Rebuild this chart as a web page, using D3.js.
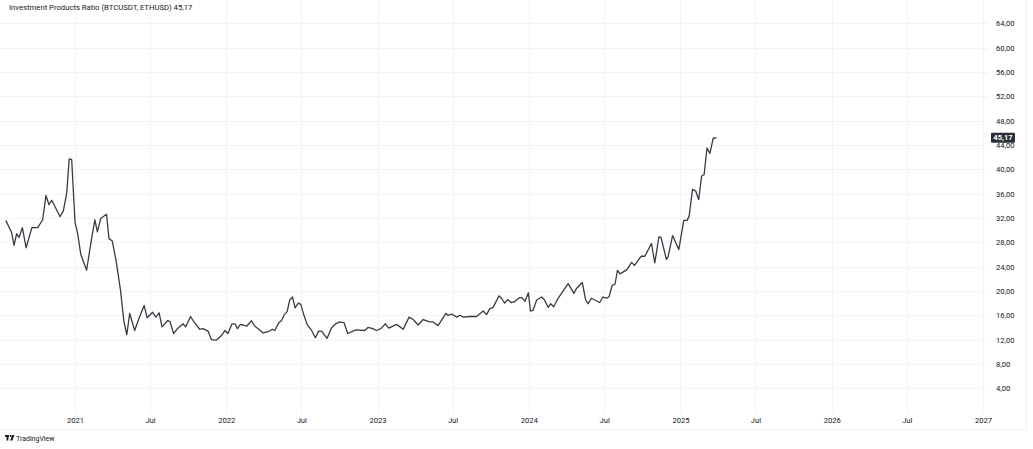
<!DOCTYPE html>
<html>
<head>
<meta charset="utf-8">
<script src="https://cdn.jsdelivr.net/npm/d3@7"></script>
<style>
  body { margin: 0; background: #ffffff; }
  svg { display: block; }
  .tick-lbl { font-family: Roboto, "Noto Sans", sans-serif; font-size: 7.6px; fill: #131722; }
  .title { font-family: Roboto, "Noto Sans", sans-serif; font-size: 7.7px; fill: #131722; }
</style>
</head>
<body>
<div id="chart"></div>
<script>
// ratio values (weekly-ish closes)
var dates = [
  "2020-07-18","2020-08-01","2020-08-07","2020-08-13","2020-08-19","2020-08-27","2020-09-05","2020-09-19",
  "2020-10-03","2020-10-15","2020-10-23","2020-10-30","2020-11-06","2020-11-26","2020-12-04","2020-12-12",
  "2020-12-18","2020-12-24","2021-01-01","2021-01-07","2021-01-15","2021-01-29","2021-02-10","2021-02-18",
  "2021-02-24","2021-03-04","2021-03-18","2021-03-24","2021-04-01","2021-04-11","2021-04-21","2021-04-29",
  "2021-05-06","2021-05-13","2021-05-25","2021-06-06","2021-06-17","2021-06-24","2021-07-07","2021-07-15",
  "2021-07-23","2021-07-30","2021-08-12","2021-08-18","2021-08-27","2021-09-05","2021-09-19","2021-09-25",
  "2021-10-07","2021-10-15","2021-10-29","2021-11-06","2021-11-18","2021-11-26","2021-12-08","2021-12-21",
  "2021-12-29","2022-01-05","2022-01-15","2022-01-22","2022-01-28","2022-02-04","2022-02-11","2022-02-19",
  "2022-03-03","2022-03-11","2022-03-19","2022-03-31","2022-04-12","2022-04-22","2022-04-28","2022-05-08",
  "2022-05-14","2022-05-21","2022-05-28","2022-06-03","2022-06-10","2022-06-16","2022-06-24","2022-06-30",
  "2022-07-07","2022-07-15","2022-07-26","2022-08-04","2022-08-12","2022-08-19","2022-09-01","2022-09-12",
  "2022-09-22","2022-10-02","2022-10-12","2022-10-21","2022-11-10","2022-12-01","2022-12-09","2022-12-21",
  "2022-12-29","2023-01-09","2023-01-20","2023-01-28","2023-02-16","2023-03-04","2023-03-18","2023-03-28",
  "2023-04-09","2023-04-21","2023-05-07","2023-05-15","2023-05-27","2023-06-15","2023-06-20","2023-06-29",
  "2023-07-11","2023-07-19","2023-07-27","2023-08-12","2023-08-28","2023-09-13","2023-09-21","2023-09-29",
  "2023-10-07","2023-10-21","2023-10-27","2023-11-04","2023-11-11","2023-11-19","2023-11-27","2023-12-09",
  "2023-12-15","2023-12-23","2023-12-31","2024-01-05","2024-01-11","2024-01-20","2024-02-01","2024-02-07",
  "2024-02-17","2024-02-23","2024-03-01","2024-03-10","2024-04-05","2024-04-19","2024-04-25","2024-05-09",
  "2024-05-17","2024-05-23","2024-05-31","2024-06-20","2024-06-28","2024-07-07","2024-07-13","2024-07-20",
  "2024-07-27","2024-08-02","2024-08-08","2024-08-25","2024-09-05","2024-09-12","2024-09-28","2024-10-07",
  "2024-10-23","2024-10-31","2024-11-10","2024-11-15","2024-11-28","2024-12-02","2024-12-13","2024-12-28",
  "2025-01-09","2025-01-17","2025-01-22","2025-01-30","2025-02-07","2025-02-14","2025-02-21","2025-02-27",
  "2025-03-06","2025-03-13","2025-03-21","2025-03-29"
];
var ratio = [
  31.6,29.6,27.5,29.4,28.8,30.4,27.1,30.4,
  30.4,31.7,35.7,34.2,34.9,32.2,33.2,36.1,
  41.7,41.6,31.3,29.6,26.0,23.4,28.6,31.7,
  29.7,31.9,32.6,28.6,28.2,24.6,20.0,15.0,
  12.8,16.3,13.5,15.8,17.6,15.6,16.5,15.7,
  16.4,14.1,15.1,15.0,13.0,13.8,14.6,14.1,
  15.8,14.9,13.7,13.8,13.4,12.0,11.9,12.7,
  13.5,13.0,14.6,14.6,13.8,14.5,14.4,14.2,
  15.1,14.2,13.8,13.1,13.3,13.7,13.5,14.8,
  15.1,16.1,16.6,18.5,19.0,17.2,18.0,17.8,
  16.1,14.5,13.5,12.3,13.4,13.4,12.2,13.9,
  14.6,14.9,14.8,13.0,13.6,13.5,14.0,13.8,
  13.5,13.8,14.6,13.9,14.5,13.7,15.7,15.3,
  14.4,15.3,14.9,14.9,14.3,16.3,16.0,16.2,
  15.7,16.0,15.7,15.8,15.8,16.7,16.1,17.1,
  17.3,19.2,18.8,18.0,18.6,18.1,18.2,18.9,
  18.9,18.3,19.7,16.7,16.8,18.5,19.0,18.6,
  17.3,17.9,17.4,18.6,21.2,19.6,20.4,21.4,
  18.6,17.9,18.8,18.1,19.0,18.8,19.1,20.9,
  21.1,23.4,22.8,23.5,24.7,24.2,25.7,25.7,
  27.8,24.6,28.9,28.8,25.2,25.6,29.1,26.8,
  31.6,31.6,32.3,36.7,36.4,35.0,38.9,39.1,
  43.5,42.6,45.1,45.17
];
var lastValue = 45.17;

var yTicks = [4, 8, 12, 16, 20, 24, 28, 32, 36, 40, 44, 48, 52, 56, 60, 64];
var xTicks = ["2021-01-01","2021-07-01","2022-01-01","2022-07-01","2023-01-01","2023-07-01",
              "2024-01-01","2024-07-01","2025-01-01","2025-07-01","2026-01-01","2026-07-01","2027-01-01"];
var titleText = "Investment Products Ratio (BTCUSDT, ETHUSD)";

var width = 1033, height = 449;
var paneRight = 988, paneBottom = 413, axisRight = 1026, axisBottom = 429;

var parse = d3.timeParse("%Y-%m-%d");
var data = dates.map(function (d, i) { return { date: parse(d), value: ratio[i] }; });

var svg = d3.select("#chart").append("svg")
  .attr("width", width)
  .attr("height", height);

// scales
var xScale = d3.scaleTime()
  .domain([parse("2021-01-01"), parse("2027-01-01")])
  .range([75, 983]);
var yScale = d3.scaleLinear()
  .domain([0, 67.83])
  .range([412.6, 0]);

// grid
var grid = svg.append("g").attr("stroke", "#f2f3f6").attr("stroke-width", 1);
grid.selectAll("line.h").data(yTicks).enter().append("line")
  .attr("x1", 0).attr("x2", paneRight)
  .attr("y1", function (d) { return Math.round(yScale(d)) + 0.5; })
  .attr("y2", function (d) { return Math.round(yScale(d)) + 0.5; });
grid.selectAll("line.v").data(xTicks).enter().append("line")
  .attr("y1", 0).attr("y2", paneBottom)
  .attr("x1", function (d) { return Math.round(xScale(parse(d))) + 0.5; })
  .attr("x2", function (d) { return Math.round(xScale(parse(d))) + 0.5; });

// outer frame
svg.append("path")
  .attr("d", "M0.5," + (axisBottom + 0.5) + "H" + (axisRight + 0.5) + "V0")
  .attr("fill", "none")
  .attr("stroke", "#eceef2");

// line
var line = d3.line()
  .x(function (d) { return xScale(d.date); })
  .y(function (d) { return yScale(d.value); });
svg.append("path")
  .datum(data)
  .attr("fill", "none")
  .attr("stroke", "#383b44")
  .attr("stroke-width", 1.3)
  .attr("stroke-linejoin", "round")
  .attr("d", line);

// price axis
var fmt = function (v) { return v.toFixed(2).replace(".", ","); };
var yAxis = d3.axisRight(yScale).tickValues(yTicks).tickSize(0).tickPadding(0).tickFormat(fmt);
var yg = svg.append("g")
  .attr("transform", "translate(996,0)")
  .call(yAxis);
yg.select(".domain").remove();
yg.selectAll("text").attr("class", "tick-lbl").attr("font-size", null).attr("font-family", null).attr("dy", "0.32em");

// time axis
var xAxis = d3.axisBottom(xScale)
  .tickValues(xTicks.map(parse))
  .tickSize(0).tickPadding(0)
  .tickFormat(function (d) { return d.getMonth() === 0 ? d3.timeFormat("%Y")(d) : "Jul"; });
var xg = svg.append("g")
  .attr("transform", "translate(0," + (paneBottom + 5) + ")")
  .call(xAxis);
xg.select(".domain").remove();
xg.selectAll("text").attr("class", "tick-lbl").attr("font-size", null).attr("font-family", null).attr("dy", "0.71em");

// last value label
var ly = yScale(lastValue);
svg.append("rect")
  .attr("x", 991).attr("y", ly - 5).attr("width", 24).attr("height", 10)
  .attr("rx", 1).attr("fill", "#2a2e39");
svg.append("text")
  .attr("x", 1003).attr("y", ly).attr("dy", "0.34em")
  .attr("text-anchor", "middle")
  .attr("class", "tick-lbl")
  .style("fill", "#ffffff").style("font-weight", "bold")
  .text(fmt(lastValue));

// title
svg.append("text")
  .attr("class", "title")
  .attr("x", 9).attr("y", 10)
  .text(titleText + "  ")
  .append("tspan").text(fmt(lastValue));

// TradingView mark
var logo = svg.append("g").attr("transform", "translate(5,435)").attr("fill", "#131722");
logo.append("rect").attr("x", 0).attr("y", 0).attr("width", 4).attr("height", 1.8);
logo.append("rect").attr("x", 1.6).attr("y", 0).attr("width", 1.8).attr("height", 5.5);
logo.append("circle").attr("cx", 5.6).attr("cy", 1).attr("r", 0.95);
logo.append("path").attr("d", "M7.2,0H9.4L7.4,5.5H5.2Z");
svg.append("text")
  .attr("x", 16).attr("y", 441)
  .attr("class", "title")
  .style("font-size", "7px")
  .text("TradingView");
</script>
</body>
</html>
